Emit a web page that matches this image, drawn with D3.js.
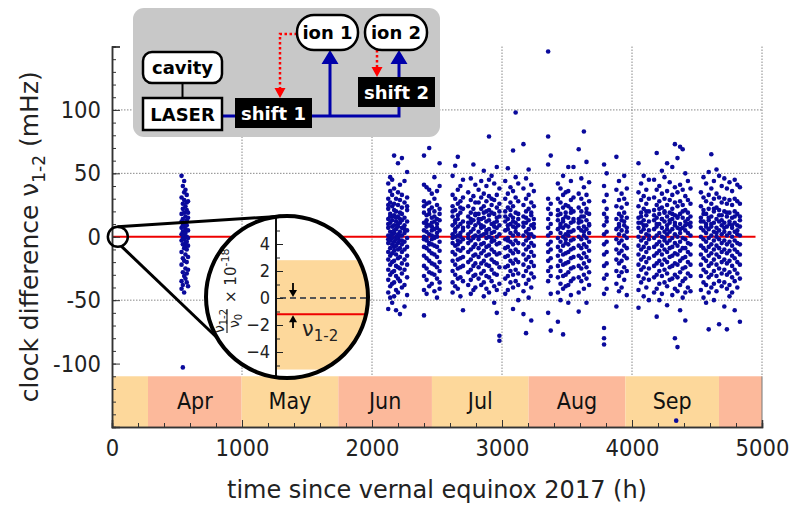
<!DOCTYPE html>
<html>
<head>
<meta charset="utf-8">
<script src="https://cdn.jsdelivr.net/npm/d3@7"></script>
<style>
body { margin: 0; background: #fff; }
svg { display: block; font-family: "DejaVu Sans", sans-serif; }
.cond { font-family: "DejaVu Sans Condensed", "DejaVu Sans", sans-serif; font-stretch: condensed; }
</style>
</head>
<body>
<div id="chart"></div>
<script>
// month bands (hours since vernal equinox 2017)
var monthStarts = [0, 277, 997, 1741, 2461, 3205, 3949, 4669];
var monthEnds   = [277, 997, 1741, 2461, 3205, 3949, 4669, 5000];
var monthNames  = ["", "Apr", "May", "Jun", "Jul", "Aug", "Sep", ""];

var xTicks = [0, 1000, 2000, 3000, 4000, 5000];
var yTicks = [-100, -50, 0, 50, 100];

// measurement columns: [hour, [clock difference in mHz, ...]]
var aprilRuns = [
  [535, [48, 31, 18, 7, -3, -12, -22, -35, 2, 12, -41]],
  [545, [40, 26, 14, 4, -6, -17, -28, 22, -1, 9, -38, -103]],
  [555, [44, 29, 19, 8, -2, -9, -19, -31, 35, 1, -44]],
  [565, [37, 24, 11, 3, -5, -14, -25, 16, -8, -33, 6]],
  [575, [33, 21, 9, 0, -10, -20, -29, 27, -4, 13, -36]],
  [585, [28, 15, 5, -7, -16, -26, 19, -1, -39]]
];

var juneJulyRuns = [
  [2125, [42, 30, 22, 14, 7, 1, -5, -12, -18, -26, -34, -44, -57, 25, -2, 10]],
  [2140, [36, 27, 18, 11, 4, -3, -9, -15, -22, -30, -39, -48, 47, 0, 16]],
  [2155, [45, 33, 24, 16, 8, 2, -6, -13, -20, -28, -37, -52, 13, -1]],
  [2170, [64, 38, 26, 17, 9, 3, -4, -11, -19, -27, -36, -47, 21, -8, 5]],
  [2185, [30, 20, 12, 6, 0, -7, -14, -23, -31, -42, -58, 15, -2]],
  [2200, [58, 35, 25, 16, 10, 2, -5, -10, -17, -24, -33, -44, 8, -1]],
  [2215, [41, 29, 19, 11, 4, -3, -9, -16, -25, -35, 14, -61, 1]],
  [2230, [62, 33, 23, 13, 7, 1, -6, -12, -21, -29, -40, 18, -3]],
  [2250, [44, 27, 15, 9, 3, -4, -10, -18, -26, -38, -55, 6]],
  [2270, [51, 31, 21, 12, 5, -1, -8, -15, -22, -32, -46, 24]],
  [2400, [64, 41, 28, 19, 11, 5, -2, -8, -15, -23, -31, -42, -62, 24, 0]],
  [2420, [39, 26, 17, 10, 4, -3, -9, -17, -25, -34, -45, 13, -1, 8]],
  [2440, [70, 37, 27, 18, 9, 2, -5, -11, -19, -28, -39, 21, -6]],
  [2460, [34, 23, 15, 8, 1, -6, -13, -21, -29, -37, 11, -2, 5]],
  [2480, [47, 30, 20, 12, 6, -1, -7, -14, -22, -30, -43, 16, 0]],
  [2500, [36, 25, 14, 7, 0, -8, -16, -24, -33, -48, 10, 3]],
  [2520, [58, 40, 22, 13, 5, -4, -11, -20, -27, -36, -41, 18]],
  [2620, [48, 33, 24, 16, 9, 2, -5, -12, -19, -27, -36, -44, 20, -1]],
  [2640, [56, 30, 21, 13, 6, 0, -7, -14, -22, -30, -39, 11, 4]],
  [2660, [63, 37, 26, 17, 8, 1, -6, -10, -18, -25, -33, -41, 14, -3]],
  [2680, [40, 28, 19, 10, 3, -4, -11, -17, -24, -32, -47, 23, 0]],
  [2700, [45, 31, 22, 12, 5, -2, -9, -16, -23, -35, -58, 7]],
  [2740, [35, 24, 16, 8, 2, -5, -12, -20, -28, -38, 11, -1]],
  [2760, [46, 29, 19, 11, 4, -3, -10, -18, -26, -34, -45, 14]],
  [2780, [57, 32, 22, 13, 6, -1, -8, -15, -23, -31, -42, 0]],
  [2795, [41, 27, 17, 9, 1, -6, -14, -21, -30, -40, 18]],
  [2820, [37, 27, 18, 11, 4, -2, -9, -16, -24, -33, 14, 0]],
  [2840, [44, 31, 22, 14, 7, 1, -6, -13, -21, -29, -38, 9]],
  [2860, [52, 34, 24, 15, 8, 2, -5, -11, -19, -27, -36, -47, 19]],
  [2880, [40, 28, 20, 12, 5, -1, -8, -15, -22, -31, -41, 3]],
  [2900, [79, 45, 32, 21, 13, 6, 0, -7, -14, -23, -32, -44, 17]],
  [2920, [48, 30, 19, 10, 3, -4, -10, -18, -26, -35, 25, -1]],
  [2940, [42, 29, 18, 11, 4, -3, -12, -20, -29, -39, -52, 8]],
  [2960, [55, 33, 23, 15, 7, 0, -6, -14, -21, -30, -42, -60, 12]],
  [2980, [38, 26, 16, 9, 2, -5, -13, -24, -37, -78, -82, 20]],
  [3025, [44, 30, 20, 12, 5, -2, -9, -16, -24, -33, -45, 16]],
  [3045, [54, 34, 23, 14, 6, -1, -8, -15, -23, -31, -42, 9, -3]],
  [3065, [39, 27, 17, 10, 3, -4, -11, -19, -27, -36, 21]],
  [3085, [68, 36, 24, 15, 8, 1, -6, -13, -21, -30, -40, -57, 12]],
  [3105, [98, 47, 31, 19, 11, 4, -3, -10, -18, -26, -35, 7]],
  [3125, [42, 28, 18, 9, 2, -5, -12, -20, -29, -38, -50, 14]],
  [3165, [73, 38, 25, 16, 8, 1, -6, -14, -22, -31, -43, -61, 11]],
  [3185, [46, 30, 20, 11, 4, -3, -10, -18, -27, -37, -76, 15]]
];

var augSepRuns = [
  [3205, [53, 33, 22, 13, 6, -1, -8, -16, -24, -34, -48, 2]],
  [3225, [41, 27, 17, 9, 2, -5, -12, -20, -29, -40, -66, 19]],
  [3245, [36, 24, 14, 7, 0, -7, -15, -23, -32, 10]],
  [3355, [146, 79, 57, 30, 22, 14, 7, 1, -6, -12, -19, -27, -35, -60]],
  [3375, [64, 26, 18, 10, 3, -4, -10, -17, -24, -31, -45, -74]],
  [3430, [42, 30, 21, 13, 6, -1, -8, -15, -23, -32, -44, -67, 17]],
  [3450, [38, 27, 18, 10, 3, -4, -11, -19, -27, -37, -50, 8]],
  [3470, [48, 33, 23, 14, 7, 0, -7, -14, -22, -31, -41, -77, 12]],
  [3490, [35, 25, 16, 9, 2, -5, -13, -21, -30, -39, 19, -2]],
  [3510, [55, 36, 24, 15, 8, 1, -6, -12, -20, -28, -38, -52, 4]],
  [3530, [44, 29, 19, 11, 4, -3, -10, -17, -25, -35, -46, 22]],
  [3550, [55, 31, 20, 12, 5, -2, -9, -16, -24, -33, 14]],
  [3590, [69, 34, 23, 14, 7, 0, -7, -15, -23, -32, -44, -59, 11]],
  [3610, [46, 30, 20, 12, 5, -2, -9, -17, -25, -35, 16]],
  [3630, [83, 39, 26, 16, 8, 1, -6, -13, -21, -30, -41, 4]],
  [3650, [59, 33, 22, 13, 6, -1, -8, -16, -24, -33, -52, 19]],
  [3670, [43, 28, 18, 10, 3, -4, -11, -19, -28, -38, 9]],
  [3785, [57, 40, 28, 18, 9, 2, -6, -14, -23, -33, -45, -72, -80, -85]],
  [3805, [50, 33, 22, 12, 4, -4, -12, -21, -30, -41, 15]],
  [3880, [63, 37, 24, 14, 6, -2, -10, -18, -27, -37, -55]],
  [3900, [44, 29, 18, 10, 2, -5, -13, -21, -31, -43, 8]],
  [3920, [34, 23, 13, 5, -3, -11, -19, -28, -40, 16]],
  [3940, [48, 30, 19, 9, 1, -7, -15, -24, -34, 12]],
  [3960, [38, 26, 15, 7, -1, -9, -17, -27, -46, 4]],
  [4050, [58, 35, 24, 15, 7, 0, -7, -14, -22, -31, -42, -56, 11]],
  [4070, [42, 29, 19, 11, 4, -3, -10, -18, -26, -36, 16]],
  [4090, [48, 32, 22, 13, 6, -1, -8, -16, -24, -33, -47, 9]],
  [4110, [37, 26, 17, 9, 2, -5, -12, -20, -29, -40, 20]],
  [4130, [45, 30, 20, 12, 5, -2, -9, -17, -25, -34, -50, 1]],
  [4170, [45, 31, 21, 13, 6, -1, -8, -15, -23, -32, -44, 17]],
  [4190, [66, 37, 25, 15, 8, 1, -6, -13, -21, -30, -41, -63, 10]],
  [4210, [40, 28, 18, 10, 3, -4, -11, -19, -27, -37, -50, 22]],
  [4230, [52, 34, 23, 14, 7, 0, -7, -14, -22, -31, -45, 14]],
  [4250, [47, 30, 20, 12, 4, -3, -10, -18, -26, -36, 19, -1]],
  [4270, [58, 36, 25, 16, 9, 2, -5, -12, -20, -29, -39, -54, 6]],
  [4290, [43, 29, 19, 11, 4, -3, -9, -16, -24, -34, 13]],
  [4310, [55, 33, 22, 14, 6, -1, -8, -15, -23, -33, -46, 18]],
  [4330, [73, 39, 27, 17, 9, 2, -5, -13, -21, -30, -41, -80, 11]],
  [4340, [-145]],
  [4350, [62, 35, 24, 15, 7, 0, -7, -14, -22, -32, -43, -87, 16]],
  [4370, [71, 41, 28, 18, 10, 3, -4, -11, -19, -28, -38, -58, 6]],
  [4390, [69, 37, 25, 15, 7, -1, -9, -17, -25, -35, -48, 20]],
  [4410, [50, 32, 21, 12, 5, -2, -9, -16, -24, -33, -44, -66, 9]],
  [4430, [44, 29, 19, 10, 3, -5, -12, -20, -29, -40, 14]],
  [4450, [38, 26, 16, 8, 1, -6, -14, -22, -31, -43, 11]],
  [4530, [35, 24, 15, 7, 0, -7, -14, -22, -31, -42, 12]],
  [4550, [47, 31, 21, 12, 5, -2, -9, -17, -26, -36, -48, 18]],
  [4570, [42, 28, 18, 10, 3, -4, -11, -19, -28, -38, -52, 8]],
  [4590, [51, 33, 22, 13, 6, -1, -8, -15, -23, -32, -44, -73, 15]],
  [4610, [65, 38, 26, 16, 8, 1, -6, -13, -21, -30, -40, 10]],
  [4630, [44, 30, 20, 11, 4, -3, -10, -18, -27, -37, -50, 22]],
  [4650, [53, 34, 23, 14, 7, 0, -7, -14, -22, -31, -43, 3]],
  [4670, [48, 31, 21, 12, 5, -2, -9, -16, -25, -35, -69, 17]],
  [4690, [40, 27, 17, 9, 2, -5, -12, -20, -29, -39, 13]],
  [4710, [46, 30, 20, 11, 4, -3, -10, -18, -26, -36, -55, 7]],
  [4730, [38, 26, 16, 8, 1, -6, -13, -21, -30, -41, -73, 19]],
  [4750, [43, 29, 19, 10, 3, -4, -11, -19, -28, -38, -47, 12]],
  [4770, [36, 25, 15, 7, 0, -7, -15, -23, -32, -44, 9]],
  [4790, [45, 30, 20, 11, 4, -3, -10, -17, -26, -35, -58, 16]],
  [4810, [41, 28, 18, 9, 2, -5, -12, -20, -29, -40, 5]],
  [4830, [39, 26, 16, 8, 1, -6, -14, -22, -33, -67, 13]]
];

// mean line and magnifier
var meanValue = 0;
var meanEnd = 4950;
var zoomAt = [45, 0];
// inner plot (fractional difference x 1e-18)
var innerTicks = [-4, -2, 0, 2, 4];
var innerBand = [-5.3, 2.8];
var innerMean = -1.2;

var w = 792, h = 510;
var bandColors = ["#fdd89b", "#fcb99b"];
var dotColor = "#0a0a9c";

var x = d3.scaleLinear().domain([0, 5000]).range([112, 762]);
var y = d3.scaleLinear().domain([-150, 150]).range([427, 46.5]);

var svg = d3.select("#chart").append("svg")
    .attr("width", w)
    .attr("height", h);

// month bands along the bottom
svg.selectAll("rect.month")
    .data(monthStarts)
    .enter().append("rect")
    .attr("class", "month")
    .attr("x", function(d) { return x(d); })
    .attr("width", function(d, i) { return x(monthEnds[i]) - x(d); })
    .attr("y", y(-110))
    .attr("height", y(-150) - y(-110))
    .style("fill", function(d, i) { return bandColors[i % 2]; });

svg.selectAll("text.month")
    .data(monthNames)
    .enter().append("text")
    .attr("class", "month cond")
    .attr("x", function(d, i) { return (x(monthStarts[i]) + x(monthEnds[i])) / 2; })
    .attr("y", 409)
    .attr("text-anchor", "middle")
    .style("font-size", "23px")
    .style("fill", "#111")
    .text(function(d) { return d; });

// dotted grid
svg.selectAll("line.vgrid")
    .data(xTicks.slice(1))
    .enter().append("line")
    .attr("x1", function(d) { return x(d); })
    .attr("x2", function(d) { return x(d); })
    .attr("y1", y(150))
    .attr("y2", y(-110))
    .style("stroke", "#888")
    .style("stroke-dasharray", "1.5,1.5");

svg.selectAll("line.hgrid")
    .data([100, 50, -50])
    .enter().append("line")
    .attr("x1", x(0))
    .attr("x2", x(5000))
    .attr("y1", function(d) { return y(d); })
    .attr("y2", function(d) { return y(d); })
    .style("stroke", "#888")
    .style("stroke-dasharray", "1.5,1.5");

svg.append("line")
    .attr("x1", x(5000)).attr("x2", x(5000))
    .attr("y1", y(-110)).attr("y2", y(-150))
    .style("stroke", "#777");

// mean line
svg.append("line")
    .attr("x1", x(0)).attr("x2", x(meanEnd))
    .attr("y1", y(meanValue)).attr("y2", y(meanValue))
    .style("stroke", "#ee0000")
    .style("stroke-width", 2);

// data points
var points = [];
aprilRuns.concat(juneJulyRuns, augSepRuns).forEach(function(run) {
    run[1].forEach(function(v) { points.push({ t: run[0], v: v }); });
});

svg.selectAll("circle.pt")
    .data(points)
    .enter().append("circle")
    .attr("class", "pt")
    .attr("cx", function(d) { return x(d.t); })
    .attr("cy", function(d) { return y(d.v); })
    .attr("r", 2.3)
    .style("fill", dotColor);

// axes, ticks pointing inward
function styleAxis(g) {
    g.select(".domain").style("stroke", "#333").style("stroke-width", 1.5);
    g.selectAll(".tick line").style("stroke", "#333");
    g.selectAll("text").attr("class", "cond").style("font-size", "23.5px").style("fill", "#222");
}

svg.append("g")
    .attr("transform", "translate(" + x(0) + ",0)")
    .call(d3.axisLeft(y).tickValues(d3.range(-150, 151, 10)).tickSize(-4).tickFormat(""))
    .call(styleAxis);
svg.append("g")
    .attr("transform", "translate(" + x(0) + ",0)")
    .call(d3.axisLeft(y).tickValues(yTicks.concat([-150, 150])).tickSize(-8).tickPadding(11)
        .tickFormat(function(d) { return yTicks.indexOf(d) >= 0 ? d : ""; }))
    .call(styleAxis);

svg.append("g")
    .attr("transform", "translate(0," + y(-150) + ")")
    .call(d3.axisBottom(x).tickValues(d3.range(0, 5001, 200)).tickSize(-4).tickFormat(""))
    .call(styleAxis);
svg.append("g")
    .attr("transform", "translate(0," + y(-150) + ")")
    .call(d3.axisBottom(x).tickValues(xTicks).tickSize(-7).tickPadding(12).tickFormat(d3.format("d")))
    .call(styleAxis);

// axis titles
svg.append("text")
    .attr("x", (x(0) + x(5000)) / 2)
    .attr("y", 498)
    .attr("text-anchor", "middle")
    .style("font-size", "24px")
    .style("fill", "#222")
    .text("time since vernal equinox 2017 (h)");

var yt = svg.append("text")
    .attr("transform", "translate(38," + y(0) + ") rotate(-90)")
    .attr("text-anchor", "middle")
    .style("font-size", "25px")
    .style("fill", "#222");
yt.append("tspan").text("clock difference ν");
yt.append("tspan").attr("dy", 7).style("font-size", "17px").text("1-2");
yt.append("tspan").attr("dy", -7).text(" (mHz)");

// ---- magnifier ----
var small = { cx: x(zoomAt[0]), cy: y(zoomAt[1]), r: 10 };
var big = { cx: 287, cy: 297, r: 81 };

function onCircle(c, deg) {
    var a = deg * Math.PI / 180;
    return [c.cx + c.r * Math.cos(a), c.cy + c.r * Math.sin(a)];
}
var connectors = [[onCircle(small, -92), onCircle(big, -94)], [onCircle(small, 70), onCircle(big, 150)]];
svg.selectAll("line.conn")
    .data(connectors)
    .enter().append("line")
    .attr("x1", function(d) { return d[0][0]; })
    .attr("y1", function(d) { return d[0][1]; })
    .attr("x2", function(d) { return d[1][0]; })
    .attr("y2", function(d) { return d[1][1]; })
    .style("stroke", "#000")
    .style("stroke-width", 3);

svg.append("circle")
    .attr("cx", small.cx).attr("cy", small.cy).attr("r", small.r)
    .style("fill", "none").style("stroke", "#000").style("stroke-width", 2.5);

svg.append("clipPath").attr("id", "lens")
    .append("circle").attr("cx", big.cx).attr("cy", big.cy).attr("r", big.r);

svg.append("circle")
    .attr("cx", big.cx).attr("cy", big.cy).attr("r", big.r)
    .style("fill", "#fff");

var yi = d3.scaleLinear().domain([0, 4]).range([298, 244]);
var axX = 276;
var lens = svg.append("g").attr("clip-path", "url(#lens)");

lens.append("rect")
    .attr("x", axX).attr("width", 100)
    .attr("y", yi(innerBand[1]))
    .attr("height", yi(innerBand[0]) - yi(innerBand[1]))
    .style("fill", bandColors[0]);

lens.append("line")
    .attr("x1", axX + 4).attr("x2", axX + 100)
    .attr("y1", yi(0)).attr("y2", yi(0))
    .style("stroke", "#555").style("stroke-width", 1.8)
    .style("stroke-dasharray", "6,4");

lens.append("line")
    .attr("x1", axX).attr("x2", axX + 100)
    .attr("y1", yi(innerMean)).attr("y2", yi(innerMean))
    .style("stroke", "#ee0000").style("stroke-width", 2);

var inAxis = lens.append("g")
    .attr("transform", "translate(" + axX + ",0)")
    .call(d3.axisLeft(yi).tickValues(d3.range(-7, 8, 1)).tickSize(-4).tickFormat(""));
inAxis.select(".domain").remove();
inAxis.selectAll(".tick line").style("stroke", "#222");
var inAxis2 = lens.append("g")
    .attr("transform", "translate(" + axX + ",0)")
    .call(d3.axisLeft(yi).tickValues(innerTicks).tickSize(-7).tickPadding(6).tickFormat(d3.format("d")));
inAxis2.select(".domain").remove();
inAxis2.selectAll(".tick line").style("stroke", "#222");
inAxis2.selectAll("text").attr("class", "cond").style("font-size", "18px").style("fill", "#222");

lens.append("line")
    .attr("x1", axX).attr("x2", axX)
    .attr("y1", big.cy - big.r).attr("y2", big.cy + big.r)
    .style("stroke", "#111").style("stroke-width", 2);

// arrows marking the shift
var ax2 = 293;
lens.append("line").attr("x1", ax2).attr("x2", ax2).attr("y1", 283).attr("y2", yi(0) - 6)
    .style("stroke", "#000").style("stroke-width", 1.8);
lens.append("path").attr("d", "M" + (ax2 - 4) + "," + (yi(0) - 8) + "L" + ax2 + "," + (yi(0) - 1) + "L" + (ax2 + 4) + "," + (yi(0) - 8) + "Z");
lens.append("line").attr("x1", ax2).attr("x2", ax2).attr("y1", 328).attr("y2", yi(innerMean) + 6)
    .style("stroke", "#000").style("stroke-width", 1.8);
lens.append("path").attr("d", "M" + (ax2 - 4) + "," + (yi(innerMean) + 8) + "L" + ax2 + "," + (yi(innerMean) + 1) + "L" + (ax2 + 4) + "," + (yi(innerMean) + 8) + "Z");

var nl = lens.append("text").attr("x", 302).attr("y", 336).style("font-size", "21px").style("fill", "#222");
nl.append("tspan").text("ν");
nl.append("tspan").attr("dy", 5).style("font-size", "15px").text("1-2");

// rotated inner label: nu_1-2 / nu_0 x 10^-18
var fl = lens.append("g").attr("transform", "translate(229,333) rotate(-90)");
fl.append("line").attr("x1", 0).attr("x2", 24).attr("y1", -2).attr("y2", -2).style("stroke", "#222").style("stroke-width", 1.2);
var num = fl.append("text").attr("x", 12).attr("y", -5).attr("text-anchor", "middle").style("font-size", "14px").style("fill", "#222");
num.append("tspan").text("ν");
num.append("tspan").attr("dy", 3).style("font-size", "10px").text("1-2");
var den = fl.append("text").attr("x", 12).attr("y", 10).attr("text-anchor", "middle").style("font-size", "14px").style("fill", "#222");
den.append("tspan").text("ν");
den.append("tspan").attr("dy", 3).style("font-size", "10px").text("0");
var ex = fl.append("text").attr("x", 30).attr("y", 7).style("font-size", "15px").style("fill", "#222");
ex.append("tspan").text("× 10");
ex.append("tspan").attr("dy", -7).style("font-size", "11px").text("-18");

svg.append("circle")
    .attr("cx", big.cx).attr("cy", big.cy).attr("r", big.r)
    .style("fill", "none").style("stroke", "#000").style("stroke-width", 4);

// ---- setup diagram ----
var dg = svg.append("g").style("font-weight", "bold").style("font-size", "18px");
dg.append("rect").attr("x", 133).attr("y", 8).attr("width", 307).attr("height", 129).attr("rx", 11)
    .style("fill", "#c8c8c8");

var blue = "#0000aa";
dg.append("path").attr("d", "M222,116H235M312,116H399V107M330,116V62M399,77V62")
    .style("fill", "none").style("stroke", blue).style("stroke-width", 3);
dg.append("path").attr("d", "M330,50L321.5,64L338.5,64ZM399,50L390.5,64L407.5,64Z").style("fill", blue);

dg.append("path").attr("d", "M297,34H280V89M377,50V67")
    .style("fill", "none").style("stroke", "#ff0000").style("stroke-width", 2.5)
    .style("stroke-dasharray", "2.5,2.5");
dg.append("path").attr("d", "M280,98L274.5,88L285.5,88ZM377,77L371.5,67L382.5,67Z").style("fill", "#ff0000");

dg.append("line").attr("x1", 182.5).attr("x2", 182.5).attr("y1", 83).attr("y2", 98)
    .style("stroke", "#000").style("stroke-width", 2);

var boxes = [
    { label: "cavity", x: 143, y: 52, w: 79, h: 31, rx: 9, dark: false },
    { label: "LASER", x: 143, y: 98, w: 79, h: 32, rx: 0, dark: false },
    { label: "shift 1", x: 235, y: 98, w: 77, h: 30, rx: 0, dark: true },
    { label: "shift 2", x: 358, y: 77, w: 77, h: 30, rx: 0, dark: true },
    { label: "ion 1", x: 297, y: 15, w: 61, h: 35, rx: 17, dark: false },
    { label: "ion 2", x: 365, y: 15, w: 62, h: 35, rx: 17, dark: false }
];
dg.selectAll("rect.box")
    .data(boxes)
    .enter().append("rect")
    .attr("x", function(d) { return d.x; })
    .attr("y", function(d) { return d.y; })
    .attr("width", function(d) { return d.w; })
    .attr("height", function(d) { return d.h; })
    .attr("rx", function(d) { return d.rx; })
    .style("fill", function(d) { return d.dark ? "#000" : "#fff"; })
    .style("stroke", "#000")
    .style("stroke-width", function(d) { return d.dark ? 0 : 2.5; });
dg.selectAll("text.box")
    .data(boxes)
    .enter().append("text")
    .attr("x", function(d) { return d.x + d.w / 2; })
    .attr("y", function(d) { return d.y + d.h / 2 + 6.5; })
    .attr("text-anchor", "middle")
    .style("fill", function(d) { return d.dark ? "#fff" : "#000"; })
    .text(function(d) { return d.label; });
</script>
</body>
</html>
